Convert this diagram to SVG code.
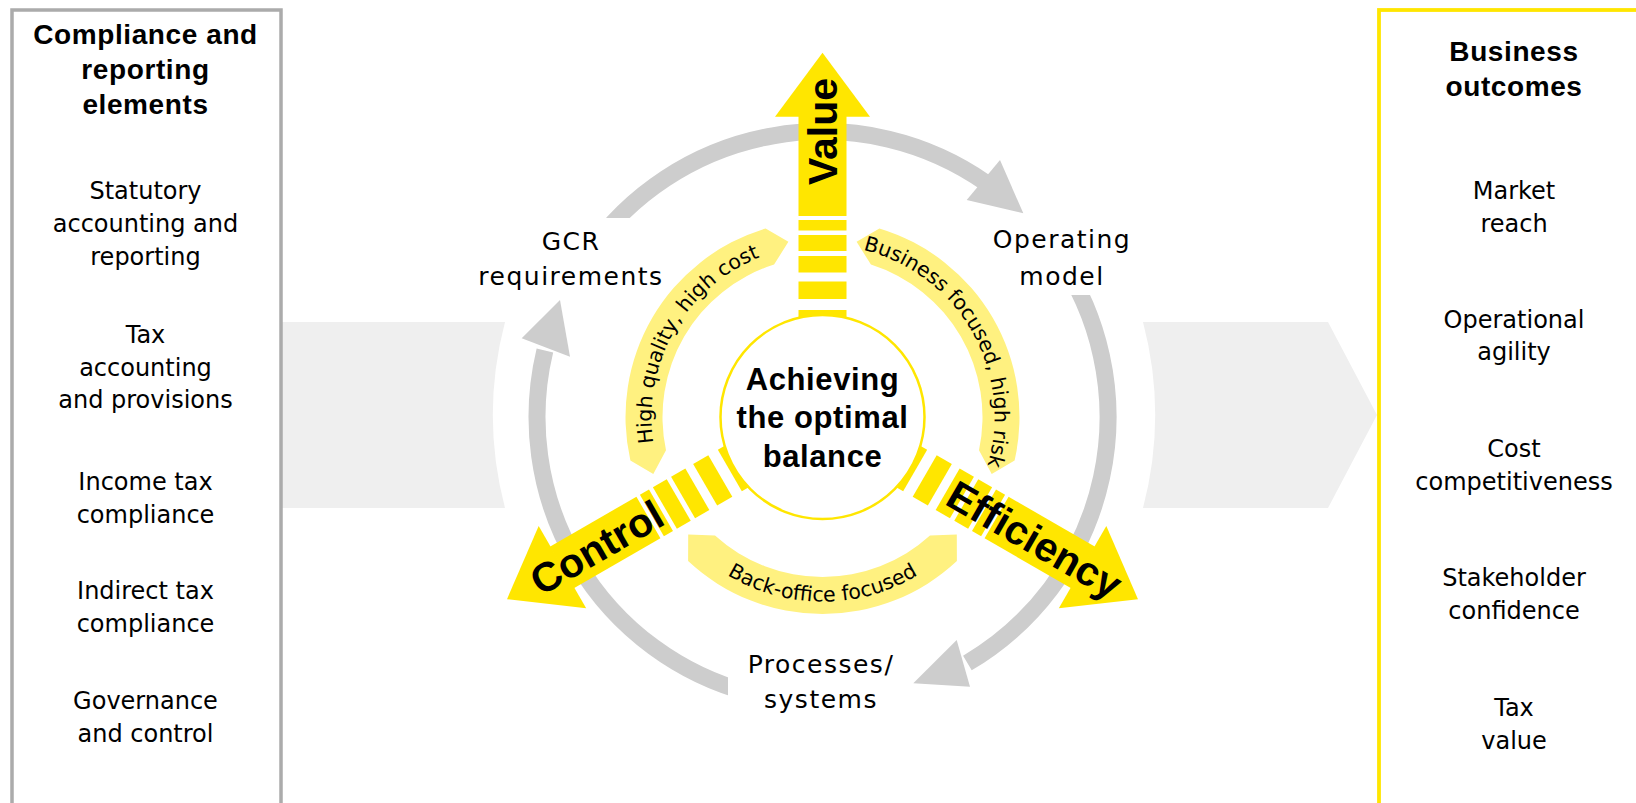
<svg xmlns="http://www.w3.org/2000/svg" xmlns:xlink="http://www.w3.org/1999/xlink" width="1636" height="803" viewBox="0 0 1636 803">
  <style>
    .head { font-family: "Liberation Sans", Arial, sans-serif; font-weight: bold; font-size: 28px; letter-spacing: 0.6px; text-anchor: middle; fill: #000; }
    .item { font-family: "DejaVu Sans", Verdana, sans-serif; font-size: 24px; text-anchor: middle; fill: #000; }
    .ring-label { font-family: "DejaVu Sans", Verdana, sans-serif; font-size: 25px; letter-spacing: 1.5px; text-anchor: middle; fill: #000; }
    .hub-text { font-family: "Liberation Sans", Arial, sans-serif; font-weight: bold; font-size: 31px; letter-spacing: 0.6px; text-anchor: middle; fill: #000; }
    .arrow-text { font-family: "Liberation Sans", Arial, sans-serif; font-weight: bold; font-size: 41px; text-anchor: middle; fill: #000; }
    .band-text { font-family: "DejaVu Sans", Verdana, sans-serif; font-size: 20.5px; fill: #000; }
    .flow { fill: #efefef; }
    .ring { fill: none; stroke: #cdcdcd; stroke-width: 17; }
    .ring-head { fill: #cdcdcd; }
    .band { fill: #fff180; }
    .yellow { fill: #ffe600; }
    .label-bg { fill: #ffffff; }
  </style>
  <defs>
    <!-- One yellow arrow pointing along +x from the hub centre: striped tail, solid shaft, head -->
    <g id="hub-arrow" class="yellow">
      <rect x="92" y="-24" width="15" height="48"/>
      <rect x="118" y="-24" width="17.5" height="48"/>
      <rect x="144.5" y="-24" width="16.5" height="48"/>
      <rect x="166" y="-24" width="16" height="48"/>
      <rect x="186.5" y="-24" width="10.5" height="48"/>
      <rect x="201" y="-24" width="100" height="48"/>
      <polygon points="300.3,-47.5 364.3,0 300.3,47.5"/>
    </g>
    <!-- Baselines for the curved band captions -->
    <path id="path-left-band" d="M674.5,503 A172,172 0 0 1 822.5,245"/>
    <path id="path-right-band" d="M822.5,245 A172,172 0 0 1 971.5,503"/>
    <path id="path-bottom-band" d="M662.7,509.3 A184.5,184.5 0 0 0 982.3,509.3"/>
  </defs>

  <rect width="1636" height="803" fill="#ffffff"/>

  <!-- Grey flow bands behind the cycle -->
  <g id="flow-in">
    <path class="flow" d="M281,322 H505 A366,366 0 0 0 505,508 H281 Z"/>
  </g>
  <g id="flow-out">
    <path class="flow" d="M1143,322 H1328 L1377,415 L1328,508 H1143 A366,366 0 0 0 1143,322 Z"/>
  </g>

  <!-- Left column -->
  <g id="compliance-panel">
    <rect x="12" y="10" width="269" height="820" fill="none" stroke="#ababab" stroke-width="3.5"/>
    <text class="head" x="145.5" y="44.3">Compliance and</text>
    <text class="head" x="145.5" y="79.3">reporting</text>
    <text class="head" x="145.5" y="114.3">elements</text>
    <text class="item" x="145.5" y="199.3">Statutory</text>
    <text class="item" x="145.5" y="232">accounting and</text>
    <text class="item" x="145.5" y="264.7">reporting</text>
    <text class="item" x="145.5" y="342.8">Tax</text>
    <text class="item" x="145.5" y="375.5">accounting</text>
    <text class="item" x="145.5" y="408.2">and provisions</text>
    <text class="item" x="145.5" y="489.9">Income tax</text>
    <text class="item" x="145.5" y="522.6">compliance</text>
    <text class="item" x="145.5" y="599.4">Indirect tax</text>
    <text class="item" x="145.5" y="632.1">compliance</text>
    <text class="item" x="145.5" y="709">Governance</text>
    <text class="item" x="145.5" y="741.7">and control</text>
  </g>

  <!-- Right column -->
  <g id="outcomes-panel">
    <rect x="1379" y="10" width="270" height="820" fill="none" stroke="#ffe600" stroke-width="3.8"/>
    <text class="head" x="1514" y="61">Business</text>
    <text class="head" x="1514" y="96">outcomes</text>
    <text class="item" x="1514" y="198.8">Market</text>
    <text class="item" x="1514" y="231.5">reach</text>
    <text class="item" x="1514" y="327.6">Operational</text>
    <text class="item" x="1514" y="360.3">agility</text>
    <text class="item" x="1514" y="457">Cost</text>
    <text class="item" x="1514" y="489.7">competitiveness</text>
    <text class="item" x="1514" y="586.4">Stakeholder</text>
    <text class="item" x="1514" y="619.1">confidence</text>
    <text class="item" x="1514" y="715.8">Tax</text>
    <text class="item" x="1514" y="748.5">value</text>
  </g>

  <!-- Grey cycle arrows -->
  <g id="cycle-connectors">
    <path class="ring" d="M588.6,253.2 A285.5,285.5 0 0 1 986.3,183.1"/>
    <polygon class="ring-head" points="966.7,200 1000,160 1023.3,213.3"/>
    <path class="ring" d="M1056.4,253.2 A285.5,285.5 0 0 1 967.4,663"/>
    <polygon class="ring-head" points="956.7,640 970,686.7 913.3,683.3"/>
    <path class="ring" d="M748.6,692.8 A285.5,285.5 0 0 1 544.9,350.4"/>
    <polygon class="ring-head" points="521.7,338.3 570,356.7 560,300"/>
  </g>

  <!-- Cycle stages -->
  <g id="gcr-requirements">
    <rect class="label-bg" x="470" y="218" width="202" height="78"/>
    <text class="ring-label" x="571" y="250">GCR</text>
    <text class="ring-label" x="571" y="285">requirements</text>
  </g>
  <g id="operating-model">
    <rect class="label-bg" x="985" y="218" width="155" height="77"/>
    <text class="ring-label" x="1062" y="248.3">Operating</text>
    <text class="ring-label" x="1062" y="285">model</text>
  </g>
  <g id="processes-systems">
    <rect class="label-bg" x="728" y="612" width="180" height="113"/>
    <text class="ring-label" x="821" y="673">Processes/</text>
    <text class="ring-label" x="821" y="708">systems</text>
  </g>

  <!-- Trade-off bands between the axes -->
  <g id="band-quality-cost">
    <path class="band" d="M630.4,460.6 A197,197 0 0 1 765.6,228.4 L788.4,241.8 L774.1,264.5 A160,160 0 0 0 666,450.3 L653.3,473.9 Z"/>
    <text class="band-text"><textPath href="#path-left-band" xlink:href="#path-left-band" startOffset="50%" text-anchor="middle">High quality, high cost</textPath></text>
  </g>
  <g id="band-business-risk">
    <path class="band" d="M879.4,228.4 A197,197 0 0 1 1014.6,460.6 L991.7,473.9 L979,450.3 A160,160 0 0 0 870.9,264.5 L856.6,241.8 Z"/>
    <text class="band-text"><textPath href="#path-right-band" xlink:href="#path-right-band" startOffset="50%" text-anchor="middle">Business focused, high risk</textPath></text>
  </g>
  <g id="band-back-office">
    <path class="band" d="M956.9,561.1 A197,197 0 0 1 688.1,561.1 L688.2,534.6 L715,535.5 A160,160 0 0 0 930,535.5 L956.8,534.6 Z"/>
    <text class="band-text"><textPath href="#path-bottom-band" xlink:href="#path-bottom-band" startOffset="50%" text-anchor="middle">Back-office focused</textPath></text>
  </g>

  <!-- Yellow axes -->
  <g id="axis-value">
    <use href="#hub-arrow" xlink:href="#hub-arrow" transform="translate(822.5,417) rotate(-90)"/>
    <text class="arrow-text" transform="translate(822.5,131.5) rotate(-90)" x="0" y="14.5">Value</text>
  </g>
  <g id="axis-efficiency">
    <use href="#hub-arrow" xlink:href="#hub-arrow" transform="translate(822.5,417) rotate(30)"/>
    <text class="arrow-text" transform="translate(1034.7,539.5) rotate(30)" x="0" y="14.5">Efficiency</text>
  </g>
  <g id="axis-control">
    <use href="#hub-arrow" xlink:href="#hub-arrow" transform="translate(822.5,417) rotate(150)"/>
    <text class="arrow-text" transform="translate(596.5,547.5) rotate(-30)" x="0" y="14.5">Control</text>
  </g>

  <!-- Hub -->
  <g id="hub">
    <circle cx="822.5" cy="417" r="102" fill="#ffffff" stroke="#ffe600" stroke-width="2.5"/>
    <text class="hub-text" x="822.5" y="390">Achieving</text>
    <text class="hub-text" x="822.5" y="428.3">the optimal</text>
    <text class="hub-text" x="822.5" y="466.7">balance</text>
  </g>
</svg>
